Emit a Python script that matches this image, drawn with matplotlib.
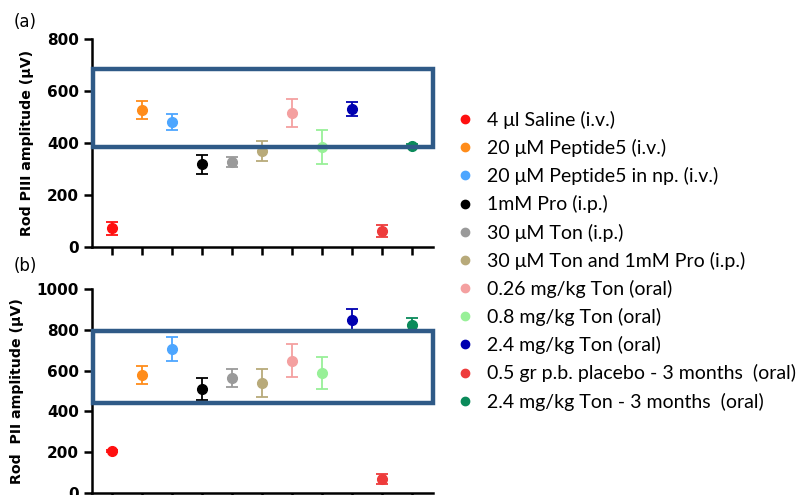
import matplotlib
matplotlib.use("Agg")
import matplotlib.pyplot as plt
from matplotlib.lines import Line2D
from matplotlib.patches import Rectangle

groups = ["4 \u03bcl Saline (i.v.)", "20 \u03bcM Peptide5 (i.v.)", "20 \u03bcM Peptide5 in np. (i.v.)",
          "1mM Pro (i.p.)", "30 \u03bcM Ton (i.p.)", "30 \u03bcM Ton and 1mM Pro (i.p.)",
          "0.26 mg/kg Ton (oral)", "0.8 mg/kg Ton (oral)", "2.4 mg/kg Ton (oral)",
          "0.5 gr p.b. placebo - 3 months  (oral)", "2.4 mg/kg Ton - 3 months  (oral)"]
colors = ["#ff1010", "#ff8c1a", "#4da6ff", "#000000", "#9a9a9a", "#b8aa7a",
          "#f4a0a0", "#98f098", "#0000b0", "#ee3b3b", "#0a8a5a"]

# Rod PIII (a)
piii_mean = [72, 527, 480, 318, 327, 370, 515, 385, 530, 62, 390]
piii_err = [25, 36, 30, 36, 20, 38, 55, 65, 28, 23, 6]
# Rod PII (b)
pii_mean = [207, 578, 706, 510, 564, 540, 648, 590, 848, 68, 825]
pii_err = [6, 45, 60, 55, 44, 70, 80, 78, 55, 25, 35]

box_a = (385, 685)
box_b = (440, 795)

W, H = 809, 495
fig = plt.figure(figsize=(W / 100, H / 100), dpi=100)

x = list(range(1, 12))
xl = (0.333, 11.7)
ax_a = fig.add_axes([92 / W, 1 - 247 / H, (433 - 92) / W, (247 - 39) / H])
ax_b = fig.add_axes([92 / W, 1 - 493 / H, (433 - 92) / W, (493 - 289) / H])


def panel(ax, mean, err, ymax, step, box, ylabel):
    for xi, m, e, c in zip(x, mean, err, colors):
        ax.errorbar(xi, m, yerr=e, fmt="o", color=c, ms=7, capsize=4,
                    elinewidth=1.3, capthick=1.3, clip_on=False, zorder=3)
    ax.set_xlim(*xl)
    ax.set_ylim(0, ymax)
    ax.set_yticks(range(0, ymax + 1, step))
    ax.set_xticks(x)
    ax.set_xticklabels([])
    for s in ("top", "right"):
        ax.spines[s].set_visible(False)
    for s in ("left", "bottom"):
        ax.spines[s].set_linewidth(1.8)
    ax.tick_params(width=1.8, length=6)
    for t in ax.get_yticklabels():
        t.set_fontweight("bold")
        t.set_fontsize(11)
    ax.set_ylabel(ylabel, fontsize=10.2, fontweight="bold", labelpad=9)
    ax.add_patch(Rectangle((0.37, box[0]), 11.7 - 0.37, box[1] - box[0],
                           fill=False, ec="#2f5a87", lw=3.2, clip_on=False, zorder=4))


panel(ax_a, piii_mean, piii_err, 800, 200, box_a, "Rod PIII amplitude (\u03bcV)")
panel(ax_b, pii_mean, pii_err, 1000, 200, box_b, "Rod  PII amplitude (\u03bcV)")

fig.text(14 / W, 1 - 22 / H, "(a)", fontsize=12, va="center")
fig.text(14 / W, 1 - 266 / H, "(b)", fontsize=12, va="center")

handles = [Line2D([], [], ls="none", marker="o", ms=6, color=c) for c in colors]
fig.legend(handles, groups, loc="upper left", bbox_to_anchor=(448 / W, 1 - 103 / H),
           frameon=False, prop={"family": ["Lato", "DejaVu Sans"], "size": 14},
           labelspacing=0.52, handletextpad=0.65, handlelength=0.95,
           borderaxespad=0)

fig.savefig("out.png", dpi=100)
